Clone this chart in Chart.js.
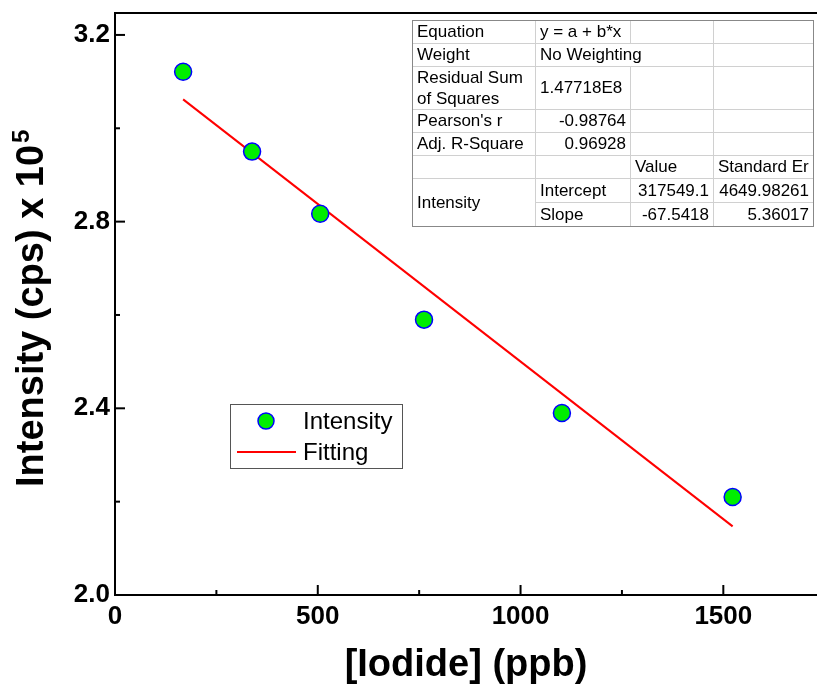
<!DOCTYPE html>
<html>
<head>
<meta charset="utf-8">
<script src="https://cdn.jsdelivr.net/npm/chart.js@4.4.1/dist/chart.umd.min.js"></script>
<style>
  body { margin: 0; background: #fff; }
  #wrap { width: 817px; height: 690px; }
</style>
</head>
<body>
<div id="wrap"><canvas id="mycanvas" width="817" height="690"></canvas></div>
<script>
// measured points (x in ppb, y in cps x 1e5)
var iodide = [168, 338, 506, 762, 1102, 1523];
var intensity = [3.121, 2.950, 2.817, 2.590, 2.390, 2.210];
// fitted line end points
var fitX = [168, 1523];
var fitY = [3.062, 2.147];

var xTicks = [0, 500, 1000, 1500];
var xMinor = [250, 750, 1250];
var yTicks = [2.0, 2.4, 2.8, 3.2];
var yMinor = [2.2, 2.6, 3.0];

var yTitle = 'Intensity (cps) x 10';
var yTitleSup = '5';

// fit report table
var tableRows = [
  ['Equation', 'y = a + b*x', '', ''],
  ['Weight', 'No Weighting', '', ''],
  ['Residual Sum\nof Squares', '1.47718E8', '', ''],
  ["Pearson's r", '-0.98764', '', ''],
  ['Adj. R-Square', '0.96928', '', ''],
  ['', '', 'Value', 'Standard Er'],
  ['Intensity', 'Intercept', '317549.1', '4649.98261'],
  ['', 'Slope', '-67.5418', '5.36017']
];

var FONT = '"Liberation Sans", Arial, sans-serif';

var extras = {
  id: 'extras',
  afterDraw: function(chart) {
    var ctx = chart.ctx;
    var a = chart.chartArea;
    var xs = chart.scales.x, ys = chart.scales.y;
    ctx.save();
    ctx.strokeStyle = '#000';
    ctx.lineWidth = 2;
    // top frame line
    ctx.beginPath();
    ctx.moveTo(a.left, a.top);
    ctx.lineTo(a.right, a.top);
    ctx.stroke();
    // inward ticks
    function tick(x1, y1, x2, y2) {
      ctx.beginPath(); ctx.moveTo(x1, y1); ctx.lineTo(x2, y2); ctx.stroke();
    }
    xTicks.forEach(function(v){ var p = xs.getPixelForValue(v); tick(p, a.bottom, p, a.bottom - 10); });
    xMinor.forEach(function(v){ var p = xs.getPixelForValue(v); tick(p, a.bottom, p, a.bottom - 5); });
    yTicks.forEach(function(v){ var p = ys.getPixelForValue(v); tick(a.left, p, a.left + 10, p); });
    yMinor.forEach(function(v){ var p = ys.getPixelForValue(v); tick(a.left, p, a.left + 5, p); });

    // y axis title with superscript
    ctx.save();
    ctx.translate(43, 487);
    ctx.rotate(-Math.PI / 2);
    ctx.fillStyle = '#000';
    ctx.textAlign = 'left';
    ctx.textBaseline = 'alphabetic';
    ctx.font = 'bold 38px ' + FONT;
    ctx.fillText(yTitle, 0, 0);
    var w = ctx.measureText(yTitle).width;
    ctx.font = 'bold 24px ' + FONT;
    ctx.fillText(yTitleSup, w + 2, -14);
    ctx.restore();

    // legend
    ctx.lineWidth = 1;
    ctx.strokeStyle = '#555';
    ctx.fillStyle = '#fff';
    ctx.fillRect(230, 404, 172, 64);
    ctx.strokeRect(230.5, 404.5, 172, 64);
    ctx.beginPath();
    ctx.arc(266, 421, 8, 0, Math.PI * 2);
    ctx.fillStyle = '#00ee00';
    ctx.fill();
    ctx.strokeStyle = '#0000ff';
    ctx.lineWidth = 1.5;
    ctx.stroke();
    ctx.strokeStyle = '#ff0000';
    ctx.lineWidth = 2;
    tick(237, 452, 296, 452);
    ctx.fillStyle = '#000';
    ctx.font = '24px ' + FONT;
    ctx.textBaseline = 'middle';
    ctx.textAlign = 'left';
    ctx.fillText(chart.data.datasets[0].label, 303, 422);
    ctx.fillText(chart.data.datasets[1].label, 303, 453);

    // table
    var cols = [412, 535, 630, 713, 813];
    var rows = [20, 43, 66, 109, 132, 155, 178, 202, 226];
    ctx.fillStyle = '#fff';
    ctx.fillRect(cols[0], rows[0], cols[4] - cols[0], rows[8] - rows[0]);
    ctx.strokeStyle = '#d0d0d0';
    ctx.lineWidth = 1;
    var r, c;
    for (r = 1; r < rows.length - 1; r++) {
      var x0 = (r === 7) ? cols[1] : cols[0];
      tick(x0, rows[r] + 0.5, cols[4], rows[r] + 0.5);
    }
    for (c = 1; c < cols.length - 1; c++) {
      for (r = 0; r < rows.length - 1; r++) {
        if (r === 1 && c === 2) continue;
        tick(cols[c] + 0.5, rows[r], cols[c] + 0.5, rows[r + 1]);
      }
    }
    ctx.strokeStyle = '#888';
    ctx.strokeRect(cols[0] + 0.5, rows[0] + 0.5, cols[4] - cols[0], rows[8] - rows[0]);

    ctx.fillStyle = '#000';
    ctx.font = '17px ' + FONT;
    ctx.textBaseline = 'middle';
    for (r = 0; r < tableRows.length; r++) {
      for (c = 0; c < 4; c++) {
        var txt = tableRows[r][c];
        if (!txt) continue;
        var top = rows[r], bot = rows[r + 1];
        if (r === 6 && c === 0) bot = rows[8];
        var lines = txt.split('\n');
        var numeric = /^-?[0-9.]+$/.test(txt) && c > 0;
        ctx.textAlign = numeric ? 'right' : 'left';
        var tx = numeric ? cols[c + 1] - 4 : cols[c] + 5;
        if (r === 5) { ctx.textAlign = 'left'; tx = cols[c] + 5; }
        for (var k = 0; k < lines.length; k++) {
          var ty = (lines.length > 1) ? top + 12 + k * 21 : (top + bot) / 2 + 1;
          ctx.fillText(lines[k], tx, ty);
        }
      }
    }
    ctx.restore();
  }
};

var ctx = document.getElementById('mycanvas');

var chart = new Chart(ctx, {
  type: 'scatter',
  data: {
    datasets: [
      {
        label: 'Intensity',
        data: iodide.map(function(x, i){ return {x: x, y: intensity[i]}; }),
        backgroundColor: '#00ee00',
        borderColor: '#0000ff',
        borderWidth: 1.5,
        pointRadius: 8.5,
        order: 1
      },
      {
        label: 'Fitting',
        data: fitX.map(function(x, i){ return {x: x, y: fitY[i]}; }),
        showLine: true,
        borderColor: '#ff0000',
        borderWidth: 2,
        pointRadius: 0,
        order: 2
      }
    ]
  },
  options: {
    responsive: false,
    animation: false,
    devicePixelRatio: 1,
    layout: { autoPadding: false, padding: { top: 13, right: 0, left: 0, bottom: 0 } },
    plugins: { legend: { display: false }, tooltip: { enabled: false } },
    scales: {
      x: {
        type: 'linear',
        min: 0,
        max: 1731,
        afterBuildTicks: function(s){ s.ticks = xTicks.map(function(v){ return {value: v}; }); },
        afterFit: function(s){ s.height = 95; s.paddingLeft = 0; s.paddingRight = 0; },
        grid: { display: false, drawTicks: false },
        border: { display: true, color: '#000', width: 2 },
        ticks: { color: '#000', font: { family: FONT, size: 26, weight: 'bold' }, padding: 6, maxRotation: 0,
                 callback: function(v){ return String(v); } },
        title: { display: true, text: '[Iodide] (ppb)', color: '#000', font: { family: FONT, size: 38, weight: 'bold' }, padding: { top: 0, bottom: 2 } }
      },
      y: {
        type: 'linear',
        min: 2.0,
        max: 3.247,
        afterBuildTicks: function(s){ s.ticks = yTicks.map(function(v){ return {value: v}; }); },
        afterFit: function(s){ s.width = 115; s.paddingTop = 0; s.paddingBottom = 0; },
        grid: { display: false, drawTicks: false },
        border: { display: true, color: '#000', width: 2 },
        ticks: { color: '#000', font: { family: FONT, size: 26, weight: 'bold' }, padding: 5,
                 callback: function(v){ return v.toFixed(1); } },
        title: { display: false }
      }
    }
  },
  plugins: [extras]
});
</script>
</body>
</html>
